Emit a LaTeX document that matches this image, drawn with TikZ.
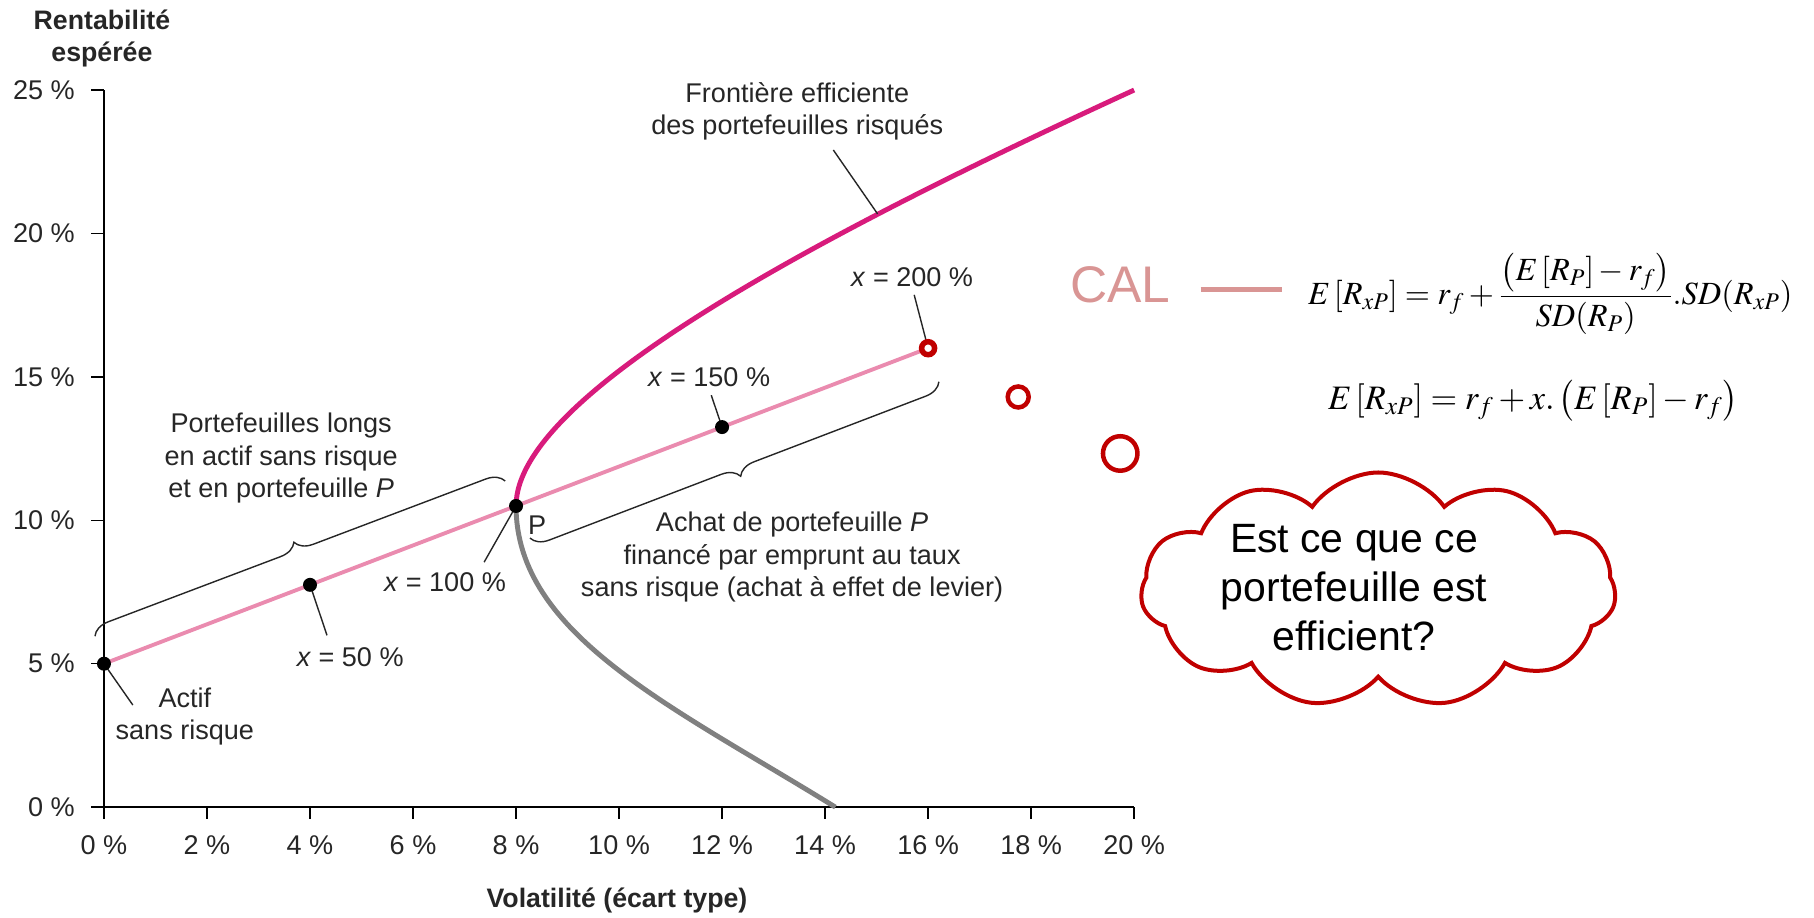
\documentclass[tikz,border=0pt]{standalone}
\usepackage{mathptmx}
\usepackage[no-math]{fontspec}
\setmainfont{Liberation Sans}
\usetikzlibrary{decorations.pathreplacing,shapes.symbols}

\definecolor{frontierpink}{RGB}{216,27,124}
\definecolor{calpink}{RGB}{234,139,175}
\definecolor{curvegray}{RGB}{128,128,128}
\definecolor{cloudred}{RGB}{192,0,0}
\definecolor{calrose}{RGB}{217,149,148}

\begin{document}
\begin{tikzpicture}[x=1.03cm, y=0.5736cm, font=\fontsize{15.4}{18.3}\selectfont, text=black!85]

% definitions
\tikzstyle{dot} = [circle, fill=black, inner sep=0pt, minimum size=0.28cm]
\tikzstyle{ring} = [circle, draw=cloudred, fill=white, inner sep=0pt]
\tikzstyle{note} = [align=center, inner sep=0pt]
\tikzstyle{axistitle} = [align=center, inner sep=0pt, font=\fontsize{15.2}{18.3}\selectfont\bfseries]
\tikzstyle{leader} = [black!85, line width=0.8pt]
\tikzstyle{bracket} = [black!85, line width=0.8pt, decorate, decoration={brace, amplitude=0.35cm}]
\tikzstyle{frontier} = [frontierpink, line width=2.8pt]
\tikzstyle{lowcurve} = [curvegray, line width=2.8pt]
\tikzstyle{cal} = [calpink, line width=2.2pt]

\useasboundingbox (-2.019,-3.835) rectangle (33.20,28.14);

% axes
\draw[line width=1.4pt] (0,25) -- (0,0) -- (20,0);
\foreach \y in {0,5,...,25} {
  \draw[line width=0.8pt] (-0.25,\y) -- (0,\y);
  \node[anchor=east, inner sep=0pt] (yt\y) at (-0.56,\y) {\y\ \%};
}
\foreach \x in {0,2,...,20} {
  \draw[line width=0.8pt] (\x,0) -- (\x,-0.42);
  \node[inner sep=0pt] (xt\x) at (\x,-1.32) {\x\ \%};
}
\node (ylab) [axistitle] at (-0.04,26.81) {Rentabilité\\espérée};
\node (xlab) [axistitle] at (9.96,-3.24) {Volatilité (écart type)};

% points
\coordinate (rf) at (0,5);
\coordinate (pt50) at (4,7.75);
\coordinate (ptP) at (8,10.5);
\coordinate (pt150) at (12,13.25);
\coordinate (pt200) at (16,16);
\coordinate (ontop) at (15.02,20.68);
\coordinate (fend) at (20,25);
\coordinate (gend) at (14.2,0);

% frontier and CAL
\draw[lowcurve] (ptP) .. controls (8,6) and (11.05,3.5) .. (gend);
\draw[frontier] (ptP) .. controls (8,14.5) and (14.3,20.3) .. (fend);
\draw[cal] (rf) -- (pt200);

% labels
\node (lfront) [note] at (13.46,24.27) {Frontière efficiente\\des portefeuilles risqués};
\node (l200) [note] at (15.69,18.48) {\textit{x} = 200 \%};
\node (l150) [note] at (11.75,14.99) {\textit{x} = 150 \%};
\node (l100) [note] at (6.62,7.85) {\textit{x} = 100 \%};
\node (l50) [note] at (4.78,5.23) {\textit{x} = 50 \%};
\node (lrf) [note] at (1.57,3.17) {Actif\\sans risque};
\node (llong) [note] at (3.44,12.17) {Portefeuilles longs\\en actif sans risque\\et en portefeuille \textit{P}};
\node (lP) [note] at (8.41,9.83) {P};
\node (llev) [note] at (13.36,8.72) {Achat de portefeuille \textit{P}\\financé par emprunt au taux\\sans risque (achat à effet de levier)};

% leaders
\coordinate (s1) at (14.16,22.91);
\coordinate (s2) at (15.73,17.86);
\coordinate (s3) at (11.79,14.36);
\coordinate (s4) at (7.38,8.54);
\coordinate (s5) at (4.33,5.99);
\coordinate (s6) at (0.56,3.56);
\draw[leader] (s1) -- (ontop);
\draw[leader] (s2) -- (pt200);
\draw[leader] (s3) -- (pt150);
\draw[leader] (s4) -- (ptP);
\draw[leader] (s5) -- (pt50);
\draw[leader] (s6) -- (rf);

% braces
\coordinate (bl1) at (-0.175,5.96);
\coordinate (bl2) at (7.79,11.37);
\coordinate (br1) at (16.21,14.83);
\coordinate (br2) at (8.27,9.38);
\draw[bracket] (bl1) -- (bl2);
\draw[bracket] (br1) -- (br2);

% dots
\node (drf) [dot] at (rf) {};
\node (d50) [dot] at (pt50) {};
\node (dP) [dot] at (ptP) {};
\node (d150) [dot] at (pt150) {};
\node (d200) [ring, line width=0.11cm, minimum size=0.26cm] at (pt200) {};

% thought bubbles
\node (b1) [ring, line width=0.09cm, minimum size=0.42cm] at (17.75,14.30) {};
\node (b2) [ring, line width=0.09cm, minimum size=0.69cm] at (19.73,12.33) {};
\node (thought) [cloud, draw=cloudred, line width=0.08cm, cloud puffs=11, cloud puff arc=110, aspect=2, minimum width=9.5cm, minimum height=4.7cm, inner sep=0pt] at (24.74,7.57) {};
\node (question) [note, text=black, font=\fontsize{23.3}{27.9}\selectfont] at (24.27,7.64) {Est ce que ce\\portefeuille est\\efficient?};

% CAL formula
\node (calname) [inner sep=0pt, text=calrose, font=\fontsize{29.3}{35}\selectfont] at (19.73,18.2) {CAL};
\node (eq1) [inner sep=0pt, text=black, font=\fontsize{18.4}{22}\selectfont] at (28.08,17.89) {$E\left[R_{xP}\right] = r_f + \displaystyle\frac{\left(E\left[R_P\right]-r_f\right)}{SD(R_P)}.SD(R_{xP})$};
\node (eq2) [inner sep=0pt, text=black, font=\fontsize{19.5}{23}\selectfont] at (27.75,14.16) {$E\left[R_{xP}\right] = r_f + x.\left(E\left[R_P\right]-r_f\right)$};
\draw[calrose, line width=0.1cm] ([xshift=0.6cm, yshift=-0.08cm]calname.east) -- ++(1.62cm,0);

\end{tikzpicture}
\end{document}
